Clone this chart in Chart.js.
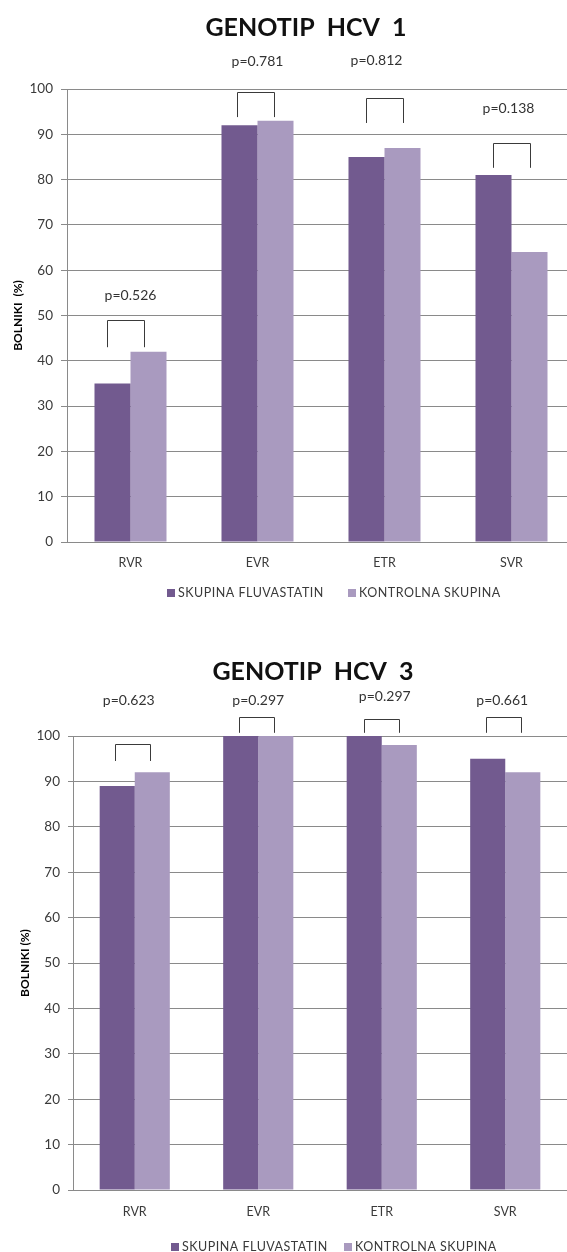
<!DOCTYPE html>
<html><head><meta charset="utf-8">
<script src="https://cdn.jsdelivr.net/npm/chart.js@4.4.0/dist/chart.umd.min.js"></script>
<style>
html,body{margin:0;padding:0;background:#fff;overflow:hidden;width:567px;height:1252px;}
#wrap1{position:absolute;left:0;top:0;width:567px;height:625px;overflow:hidden;}
#wrap2{position:absolute;left:0;top:630px;width:567px;height:622px;overflow:hidden;}
canvas{display:block;}
</style></head><body>
<div id="wrap1"><canvas id="c1" width="575" height="625"></canvas></div>
<div id="wrap2"><canvas id="c2" width="567" height="622"></canvas></div>
<script>
// ---- data ----
const categories = ['RVR', 'EVR', 'ETR', 'SVR'];
const seriesNames = ['SKUPINA FLUVASTATIN', 'KONTROLNA SKUPINA'];
const hcv1Fluvastatin = [35, 92, 85, 81];
const hcv1Kontrolna = [42, 93, 87, 64];
const hcv3Fluvastatin = [89, 100, 100, 95];
const hcv3Kontrolna = [92, 100, 98, 92];
const hcv1PValues = ['p=0.526', 'p=0.781', 'p=0.812', 'p=0.138'];
const hcv3PValues = ['p=0.623', 'p=0.297', 'p=0.297', 'p=0.661'];
const yTicks = [0, 10, 20, 30, 40, 50, 60, 70, 80, 90, 100];

// ---- styling / annotation layout ----
const DARK = '#725a8f', LIGHT = '#a99abf', GRID = '#8a8a8a', TXT = '#3a3a3a';
const FONT = 'Lato, "Open Sans", sans-serif';

const bracketPlugin = {
  id: 'brackets',
  afterDatasetsDraw(chart, args, o) {
    const {ctx} = chart; const y = chart.scales.y;
    const m0 = chart.getDatasetMeta(0), m1 = chart.getDatasetMeta(1);
    ctx.save();
    ctx.strokeStyle = '#3a3a3a'; ctx.lineWidth = 1;
    ctx.fillStyle = '#333'; ctx.font = '14px ' + FONT;
    ctx.textAlign = 'center'; ctx.textBaseline = 'middle';
    o.labels.forEach((lab, i) => {
      const x0 = Math.round(m0.data[i].x + o.bdx[i]) + 0.5, x1 = Math.round(m1.data[i].x + o.bdx[i]) + 0.5;
      const yt = Math.round(y.getPixelForValue(o.top[i])) + 0.5;
      const yl = y.getPixelForValue(o.leg[i]);
      ctx.beginPath(); ctx.moveTo(x0, yl); ctx.lineTo(x0, yt); ctx.lineTo(x1, yt); ctx.lineTo(x1, yl); ctx.stroke();
      ctx.fillText(lab, (m0.data[i].x + m1.data[i].x) / 2 + o.ldx[i], y.getPixelForValue(o.labelY[i]));
    });
    ctx.restore();
  }
};

const decoPlugin = {
  id: 'deco',
  afterDraw(chart, args, o) {
    const {ctx} = chart;
    ctx.save();
    ctx.fillStyle = '#111'; ctx.font = 'bold 25px ' + FONT;
    ctx.textAlign = 'center'; ctx.textBaseline = 'middle';
    ctx.fillText(o.title, o.titleX, o.titleY);
    ctx.font = '12.5px ' + FONT; ctx.textAlign = 'left';
    ctx.letterSpacing = '0.5px';
    const cols = [DARK, LIGHT];
    seriesNames.forEach((n, i) => {
      ctx.fillStyle = cols[i];
      ctx.fillRect(o.legX[i], o.legY - 4, 8, 8);
      ctx.fillStyle = TXT;
      ctx.fillText(n, o.legX[i] + 11, o.legY);
    });
    ctx.restore();
  }
};

function makeChart(id, d1, d2, cfg) {
  return new Chart(document.getElementById(id), {
    type: 'bar',
    data: {
      labels: categories,
      datasets: [
        {label: seriesNames[0], data: d1, backgroundColor: DARK, borderWidth: 0},
        {label: seriesNames[1], data: d2, backgroundColor: LIGHT, borderWidth: 0}
      ]
    },
    options: {
      responsive: false, animation: false, events: [],
      layout: {padding: {top: cfg.top, bottom: cfg.bottom, left: 0, right: 0}},
      datasets: {bar: {barPercentage: 1, categoryPercentage: cfg.cat}},
      plugins: {
        legend: {display: false}, tooltip: {enabled: false}, title: {display: false},
        brackets: cfg.brackets, deco: cfg.deco
      },
      scales: {
        x: {
          grid: {display: false, drawTicks: false},
          border: {display: true, color: GRID, width: 1},
          ticks: {color: TXT, font: {family: FONT, size: 12.5}, padding: cfg.xpad},
          afterFit: s => { s.height = 40; }
        },
        y: {
          min: 0, max: 100,
          afterBuildTicks: s => { s.ticks = yTicks.map(v => ({value: v})); },
          grid: {color: GRID, lineWidth: 1, tickLength: cfg.tickLen},
          border: {display: true, color: GRID, width: 1},
          ticks: {color: TXT, font: {family: FONT, size: 13.5}, padding: 8},
          title: {display: true, text: cfg.ytitle, color: '#000', font: {family: FONT, size: 12, weight: 'bold'}, padding: {top: cfg.ytitlePad, bottom: 0}},
          afterFit: s => { s.width = cfg.yw; }
        }
      }
    },
    plugins: [bracketPlugin, decoPlugin]
  });
}

makeChart('c1', hcv1Fluvastatin, hcv1Kontrolna, {
  top: 89, bottom: 43, cat: 0.567, xpad: 13, tickLen: 6, yw: 67, ytitle: 'BOLNIKI  (%)', ytitlePad: 11,
  brackets: {labels: hcv1PValues, top: [49, 99.3, 98, 88], leg: [43, 93.8, 92.5, 82.6], labelY: [54.5, 106, 106.4, 95.8], bdx: [-5, -2, 0, 0], ldx: [0, 0, -8, -3]},
  deco: {title: 'GENOTIP  HCV  1', titleX: 306, titleY: 28, legX: [167, 348], legY: 593}
});
makeChart('c2', hcv3Fluvastatin, hcv3Kontrolna, {
  top: 106, bottom: 22, cat: 0.568, xpad: 14, tickLen: 5, yw: 73, ytitle: 'BOLNIKI (%)', ytitlePad: 18,
  brackets: {labels: hcv3PValues, top: [98.2, 104.2, 103.7, 104.2], leg: [94.5, 100.7, 100.7, 100.7], labelY: [107.9, 107.9, 108.6, 107.9], bdx: [-2, -2, 0, -2], ldx: [-6, 0, 3, -3]},
  deco: {title: 'GENOTIP  HCV  3', titleX: 313, titleY: 42, legX: [171, 344], legY: 617}
});
</script>
</body></html>
